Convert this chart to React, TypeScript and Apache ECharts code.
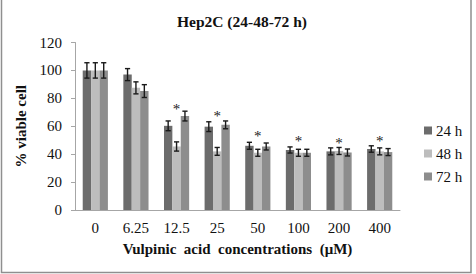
import React, { useEffect, useRef } from "react";
import * as echarts from "echarts";

// Vulpinic acid concentrations (µM)
const concentrations = ["0", "6.25", "12.5", "25", "50", "100", "200", "400"];
const seriesNames = ["24 h", "48 h", "72 h"];

// Mean viability (%) per exposure time
const viability24 = [100, 97, 60.3, 59.7, 46, 43, 42, 43.7];
const viability48 = [100, 87.5, 45.5, 42, 41, 41, 42.3, 42];
const viability72 = [100, 85.2, 67.3, 61, 45.5, 41, 41.2, 41.5];

// Standard deviations
const error24 = [5.5, 4.3, 3.5, 3.5, 2.5, 2.2, 2.5, 2.3];
const error48 = [5.5, 4.3, 3.3, 2.8, 2.5, 2.5, 2.5, 2.5];
const error72 = [5.5, 4.6, 3.5, 2.8, 2.5, 2.5, 2.5, 2.5];

// Height at which the significance mark is drawn (null = not significant)
const significance = [null, null, 74.5, 69.3, 55, 51.5, 50, 51.5];

const yTicks = { min: 0, max: 120, interval: 20 };

const colors = ["#6c6c6c", "#bdbdbd", "#8d8d8d"];
const FONT = "Liberation Serif";
const CATEGORY_GAP = 0.38;

export default function App() {
  const ref = useRef<HTMLDivElement>(null);

  useEffect(() => {
    document.body.style.margin = "0";
    const chart = echarts.init(ref.current!, undefined, { renderer: "svg" });

    const values = [viability24, viability48, viability72];
    const errors = [error24, error48, error72];

    const errorSeries = values.map((vals, s) => ({
      type: "custom",
      name: seriesNames[s] + " sd",
      z: 10,
      itemStyle: { color: "#1a1a1a" },
      data: vals.map((v, i) => [i, v, errors[s][i]]),
      renderItem: (params: any, api: any) => {
        const idx = api.value(0);
        const mean = api.value(1);
        const sd = api.value(2);
        const catWidth = api.size([1, 0])[0];
        const barW = (catWidth * (1 - CATEGORY_GAP)) / 3;
        const center = api.coord([idx, mean]);
        const x = center[0] + (s - 1) * barW;
        const top = api.coord([idx, mean + sd])[1];
        const bot = api.coord([idx, mean - sd])[1];
        const cap = 2.6;
        const style = { stroke: "#1a1a1a", lineWidth: 1.4 };
        return {
          type: "group",
          children: [
            { type: "line", shape: { x1: x, y1: top, x2: x, y2: bot }, style },
            { type: "line", shape: { x1: x - cap, y1: top, x2: x + cap, y2: top }, style },
            { type: "line", shape: { x1: x - cap, y1: bot, x2: x + cap, y2: bot }, style },
          ],
        };
      },
    }));

    // "*" marks above the significantly different groups
    const markSeries = {
      type: "custom",
      name: "significance",
      z: 11,
      colorBy: "series",
      itemStyle: { color: "#222222" },
      data: significance
        .map((v, i) => (v == null ? null : [i, v]))
        .filter((d) => d != null),
      renderItem: (params: any, api: any) => {
        const p = api.coord([api.value(0), api.value(1)]);
        return {
          type: "text",
          x: p[0],
          y: p[1] + 3,
          style: {
            text: "*",
            fill: "#222222",
            stroke: "none",
            lineWidth: 0,
            fontFamily: FONT,
            fontSize: 15,
            align: "center",
            verticalAlign: "middle",
          },
        };
      },
    };

    const axisText = { fontFamily: FONT, fontSize: 15, color: "#111" };
    const nameText = { fontFamily: FONT, fontSize: 15, fontWeight: "bold", color: "#111" };

    chart.setOption({
      animation: false,
      backgroundColor: "#ffffff",
      title: {
        text: "Hep2C (24-48-72 h)",
        left: 237,
        top: 8,
        textAlign: "center",
        textStyle: { ...nameText, fontSize: 15.5 },
      },
      legend: {
        orient: "vertical",
        left: 419,
        top: 118,
        itemWidth: 8,
        itemHeight: 8,
        itemGap: 8,
        icon: "rect",
        data: seriesNames,
        textStyle: { ...axisText, padding: [0, 0, 0, -1] },
      },
      grid: { left: 75, right: 76, top: 42.5, bottom: 64 },
      xAxis: {
        type: "category",
        data: concentrations,
        name: "Vulpinic  acid  concentrations  (μM)",
        nameLocation: "middle",
        nameGap: 31.5,
        nameTextStyle: nameText,
        axisLine: { lineStyle: { color: "#a6a6a6", width: 1 } },
        axisTick: { show: false },
        axisLabel: { ...axisText, margin: 10 },
      },
      yAxis: {
        type: "value",
        min: yTicks.min,
        max: yTicks.max,
        interval: yTicks.interval,
        name: "% viable cell",
        nameLocation: "middle",
        nameGap: 39,
        nameTextStyle: nameText,
        axisLine: { show: true, lineStyle: { color: "#a6a6a6", width: 1 } },
        axisTick: { show: true, length: 4, lineStyle: { color: "#a6a6a6" } },
        splitLine: { show: false },
        axisLabel: { ...axisText, margin: 13 },
      },
      graphic: [
        {
          type: "rect",
          shape: { x: 1.5, y: -2, width: 469.5, height: 274.5 },
          style: { fill: "none", stroke: "#8f8f8f", lineWidth: 1.5 },
          silent: true,
        },
      ],
      series: [
        ...values.map((vals, s) => ({
          type: "bar",
          name: seriesNames[s],
          data: vals,
          barGap: "0%",
          barCategoryGap: CATEGORY_GAP * 100 + "%",
          itemStyle: { color: colors[s] },
        })),
        ...errorSeries,
        markSeries,
      ],
    });

    return () => chart.dispose();
  }, []);

  return (
    <div
      ref={ref}
      style={{ position: "absolute", left: 0, top: 0, width: 476, height: 274 }}
    />
  );
}
